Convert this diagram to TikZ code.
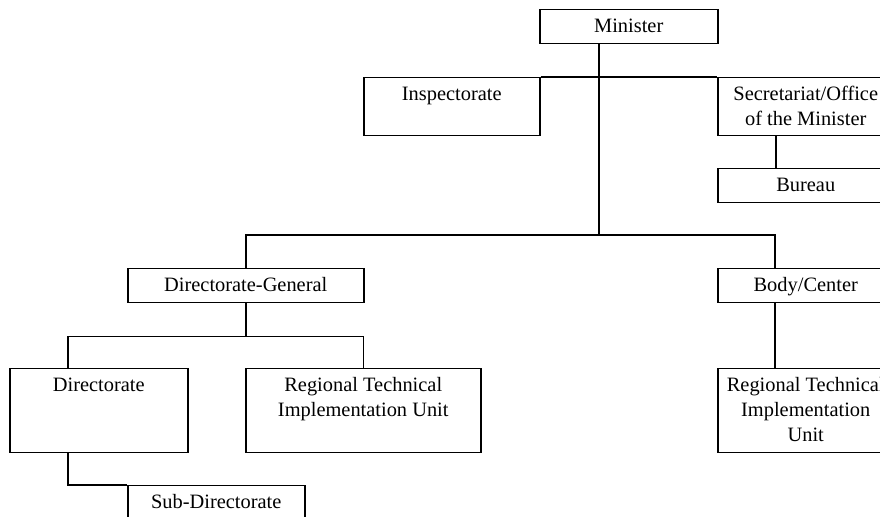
\documentclass[tikz,border=0pt]{standalone}
\usepackage{fontspec}
\setmainfont{Liberation Serif}
\usetikzlibrary{calc}
\begin{document}
\begin{tikzpicture}[x=0.5pt,y=-0.5pt,
  box/.style 2 args={draw, line width=0.75pt, inner sep=0pt, anchor=north west,
    minimum width=#1*0.5pt, minimum height=#2*0.5pt},
  lbl/.style={inner sep=0pt, anchor=north, align=center,
    font=\fontsize{10.2}{12.5}\selectfont},
  conn/.style={line width=0.75pt}]
\useasboundingbox (0,0) rectangle (880,517);
\clip (0,0) rectangle (880,517);
% boxes
\node[box={178}{34}] (min) at (539,9) {};
\node[box={176}{58}] (insp) at (363,77) {};
\node[box={176}{58}] (sec) at (717,77) {};
\node[box={176}{34}] (bur) at (717,168) {};
\node[box={236}{34}] (dg) at (127,268) {};
\node[box={176}{34}] (bc) at (717,268) {};
\node[box={178}{84}] (dir) at (9,368) {};
\node[box={235}{84}] (rtiu1) at (245,368) {};
\node[box={176}{84}] (rtiu2) at (717,368) {};
\node[box={177}{40}] (sub) at (127,485) {};
% labels
\node[lbl] (minT) at ($(min.north)+(0,5.5)$) {\strut Minister};
\node[lbl] (inspT) at ($(insp.north)+(0,5.5)$) {\strut Inspectorate};
\node[lbl] (secT) at ($(sec.north)+(0,5.5)$) {\strut Secretariat/Office\\of the Minister};
\node[lbl] (burT) at ($(bur.north)+(0,5.5)$) {\strut Bureau};
\node[lbl] (dgT) at ($(dg.north)+(0,5.5)$) {\strut Directorate-General};
\node[lbl] (bcT) at ($(bc.north)+(0,5.5)$) {\strut Body/Center};
\node[lbl] (dirT) at ($(dir.north)+(0,5.5)$) {\strut Directorate};
\node[lbl] (rtiu1T) at ($(rtiu1.north)+(0,5.5)$) {\strut Regional Technical\\Implementation Unit};
\node[lbl] (rtiu2T) at ($(rtiu2.north)+(0,5.5)$) {\strut Regional Technical\\Implementation\\Unit};
\node[lbl] (subT) at ($(sub.north)+(0,5.5)$) {\strut Sub-Directorate};
% connectors
\coordinate (t) at (599,235);
\coordinate (sb) at ($(sec.south west)+(59,0)$);
\coordinate (bcin) at ($(bc.north west)+(58,0)$);
\coordinate (dgj) at ($(dg.south)+(0,33)$);
\coordinate (dirin) at ($(dir.north west)+(59,0)$);
\draw[conn] (t |- min.south) -- (t);
\draw[conn] (insp.north east) -- (sec.north west);
\draw[conn] (sb) -- (sb |- bur.north);
\draw[conn] (dg.north) |- (t) -| (bcin);
\draw[conn] (bcin |- bc.south) -- (bcin |- rtiu2.north);
\draw[conn] (dg.south) -- (dgj);
\draw[conn] (dirin) |- (dgj) -| (rtiu1.north);
\draw[conn] (dirin |- dir.south) |- (sub.north west);
\end{tikzpicture}
\end{document}
